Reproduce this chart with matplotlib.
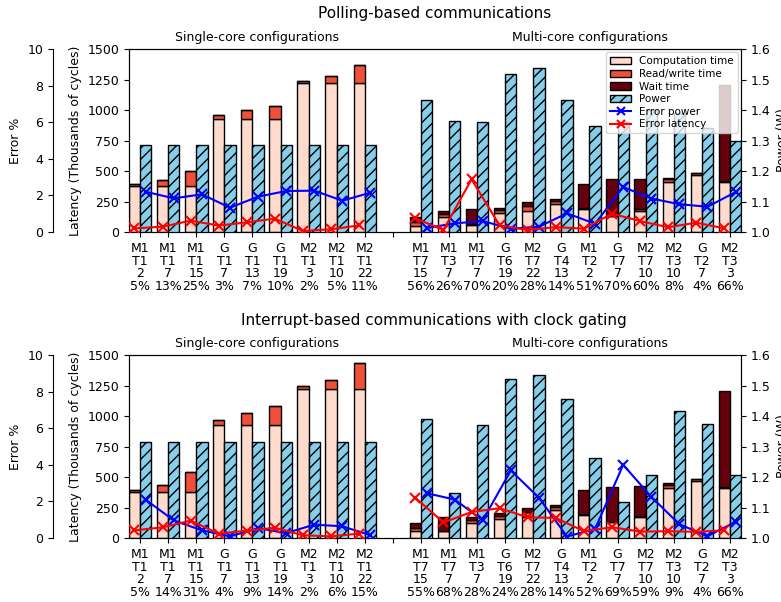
import numpy as np
import matplotlib
matplotlib.use('Agg')
import matplotlib.pyplot as plt
from matplotlib.patches import Patch
from matplotlib.lines import Line2D
import matplotlib.transforms as mtransforms

# configuration labels (core, threads, size)
single_cfg = ['M1\nT1\n2', 'M1\nT1\n7', 'M1\nT1\n15', 'G\nT1\n7', 'G\nT1\n13',
              'G\nT1\n19', 'M2\nT1\n3', 'M2\nT1\n10', 'M2\nT1\n22']
multi_cfg_poll = ['M1\nT7\n15', 'M1\nT3\n7', 'M1\nT7\n7', 'G\nT6\n19', 'M2\nT7\n22',
                  'G\nT4\n13', 'M1\nT2\n2', 'G\nT7\n7', 'M2\nT7\n10', 'M2\nT3\n10',
                  'G\nT2\n7', 'M2\nT3\n3']
multi_cfg_irq = ['M1\nT7\n15', 'M1\nT7\n7', 'M1\nT3\n7', 'G\nT6\n19', 'M2\nT7\n22',
                 'G\nT4\n13', 'M1\nT2\n2', 'G\nT7\n7', 'M2\nT7\n10', 'M2\nT3\n10',
                 'G\nT2\n7', 'M2\nT3\n3']

# communication overhead shown under each configuration
single_pct_poll = ['5%', '13%', '25%', '3%', '7%', '10%', '2%', '5%', '11%']
multi_pct_poll = ['56%', '26%', '70%', '20%', '28%', '14%', '51%', '70%', '60%', '8%', '4%', '66%']
single_pct_irq = ['5%', '14%', '31%', '4%', '9%', '14%', '2%', '6%', '15%']
multi_pct_irq = ['55%', '68%', '28%', '24%', '28%', '14%', '52%', '69%', '59%', '9%', '4%', '66%']

# polling-based, single core (latency in thousands of cycles)
poll_s_comp = [375, 375, 375, 930, 930, 930, 1218, 1218, 1218]
poll_s_rw = [20, 55, 125, 30, 72, 105, 22, 61, 148]
poll_s_wait = [0, 0, 0, 0, 0, 0, 0, 0, 0]
poll_s_power = [1.285, 1.285, 1.285, 1.285, 1.285, 1.285, 1.285, 1.285, 1.285]
poll_s_err_pow = [2.20, 1.84, 2.06, 1.33, 1.93, 2.24, 2.26, 1.71, 2.15]
poll_s_err_lat = [0.20, 0.29, 0.62, 0.35, 0.53, 0.73, 0.05, 0.15, 0.36]

# polling-based, multi core
poll_m_comp = [53, 125, 55, 155, 175, 232, 190, 130, 175, 407, 466, 410]
poll_m_rw = [32, 20, 12, 22, 35, 20, 5, 5, 10, 26, 14, 8]
poll_m_wait = [35, 25, 118, 17, 33, 18, 195, 302, 252, 10, 5, 787]
poll_m_power = [1.434, 1.364, 1.361, 1.519, 1.537, 1.433, 1.348, 1.36, 1.40, 1.39, 1.34, 1.30]
poll_m_err_pow = [0.22, 0.47, 0.60, 0.18, 0.29, 1.02, 0.45, 2.46, 1.83, 1.52, 1.38, 2.18]
poll_m_err_lat = [0.75, 0.11, 2.88, 0.36, 0.11, 0.27, 0.18, 1.00, 0.60, 0.26, 0.51, 0.20]

# interrupt-based with clock gating, single core
irq_s_comp = [375, 375, 375, 930, 930, 930, 1218, 1218, 1218]
irq_s_rw = [20, 62, 170, 40, 92, 150, 24, 78, 215]
irq_s_wait = [0, 0, 0, 0, 0, 0, 0, 0, 0]
irq_s_power = [1.316, 1.316, 1.316, 1.316, 1.316, 1.316, 1.316, 1.316, 1.316]
irq_s_err_pow = [2.09, 0.96, 0.42, 0.09, 0.53, 0.27, 0.73, 0.64, 0.15]
irq_s_err_lat = [0.42, 0.58, 0.95, 0.24, 0.40, 0.56, 0.15, 0.09, 0.24]

# interrupt-based with clock gating, multi core
irq_m_comp = [54, 54, 126, 153, 175, 232, 190, 130, 175, 407, 466, 410]
irq_m_rw = [31, 6, 25, 28, 38, 22, 5, 5, 8, 28, 14, 8]
irq_m_wait = [35, 110, 24, 20, 30, 16, 200, 286, 243, 13, 6, 787]
irq_m_power = [1.389, 1.147, 1.369, 1.520, 1.535, 1.456, 1.263, 1.118, 1.205, 1.417, 1.373, 1.205]
irq_m_err_pow = [2.45, 2.10, 0.97, 3.69, 2.20, 0.08, 0.50, 4.00, 2.25, 0.75, 0.10, 0.88]
irq_m_err_lat = [2.20, 0.85, 1.42, 1.63, 1.13, 1.10, 0.37, 0.59, 0.35, 0.37, 0.34, 0.42]

c_comp = '#fedbcc'
c_rw = '#f0503a'
c_wait = '#67000d'
c_power = '#87ceeb'
w = 0.4

x_single = np.arange(9)
x_multi = np.arange(10, 22)


def panel(bottom, s, m, s_cfg, s_pct, m_cfg, m_pct, legend=False):
    ax = fig.add_axes([0.165, bottom, 0.784, 0.304])
    axp = ax.twinx()
    axe = ax.twinx()
    axp.set_zorder(2)
    axe.set_zorder(3)

    for x, d in ((x_single, s), (x_multi, m)):
        comp, rw, wait, power, err_pow, err_lat = [np.array(v, float) for v in d]
        ax.bar(x - w / 2, comp, w, color=c_comp, edgecolor='black', lw=1)
        ax.bar(x - w / 2, rw, w, bottom=comp, color=c_rw, edgecolor='black', lw=1)
        ax.bar(x - w / 2, wait, w, bottom=comp + rw, color=c_wait, edgecolor='black', lw=1)
        axp.bar(x + w / 2, power, w, color=c_power, edgecolor='black', lw=1, hatch='///')
        axe.plot(x + w / 2, err_pow, 'b-x', lw=1.5, ms=7, mew=1.5)
        axe.plot(x - w / 2, err_lat, 'r-x', lw=1.5, ms=7, mew=1.5)

    ax.set_xlim(-0.4, 21.4)
    ax.set_ylim(0, 1500)
    ax.set_yticks([0, 250, 500, 750, 1000, 1250, 1500])
    ax.set_ylabel('Latency (Thousands of cycles)')
    ticks = list(x_single) + [9] + list(x_multi)
    labels = [c + '\n' + p for c, p in zip(s_cfg, s_pct)] + [''] + \
             [c + '\n' + p for c, p in zip(m_cfg, m_pct)]
    ax.set_xticks(ticks)
    ax.set_xticklabels(labels, linespacing=0.98)

    axp.set_ylim(1.0, 1.6)
    axp.set_yticks([1.0, 1.1, 1.2, 1.3, 1.4, 1.5, 1.6])
    axp.set_ylabel('Power (W)')

    axe.set_ylim(0, 10)
    axe.set_yticks([0, 2, 4, 6, 8, 10])
    axe.spines['left'].set_position(('axes', -0.124))
    axe.spines['left'].set_visible(True)
    axe.spines['right'].set_visible(False)
    axe.spines['top'].set_visible(False)
    axe.spines['bottom'].set_visible(False)
    axe.yaxis.set_ticks_position('left')
    axe.yaxis.set_label_position('left')
    axe.set_ylabel('Error %')

    trans = mtransforms.blended_transform_factory(ax.transData, ax.transAxes)
    ax.text(4.17, 1.03, 'Single-core configurations', transform=trans,
            ha='center', va='bottom', fontsize=9)
    ax.text(16.0, 1.03, 'Multi-core configurations', transform=trans,
            ha='center', va='bottom', fontsize=9)

    if legend:
        handles = [Patch(facecolor=c_comp, edgecolor='black'),
                   Patch(facecolor=c_rw, edgecolor='black'),
                   Patch(facecolor=c_wait, edgecolor='black'),
                   Patch(facecolor=c_power, edgecolor='black', hatch='///'),
                   Line2D([], [], color='b', marker='x', lw=1.5, mew=1.5),
                   Line2D([], [], color='r', marker='x', lw=1.5, mew=1.5)]
        names = ['Computation time', 'Read/write time', 'Wait time', 'Power',
                 'Error power', 'Error latency']
        axe.legend(handles, names, loc='upper right', fontsize=7.5, framealpha=0.8,
                   borderaxespad=0.3, handlelength=2.0, labelspacing=0.25)
    return ax


plt.rcParams['font.size'] = 9
fig = plt.figure(figsize=(7.81, 6.02), dpi=100)

panel(0.6146,
      (poll_s_comp, poll_s_rw, poll_s_wait, poll_s_power, poll_s_err_pow, poll_s_err_lat),
      (poll_m_comp, poll_m_rw, poll_m_wait, poll_m_power, poll_m_err_pow, poll_m_err_lat),
      single_cfg, single_pct_poll, multi_cfg_poll, multi_pct_poll, legend=True)
panel(0.1063,
      (irq_s_comp, irq_s_rw, irq_s_wait, irq_s_power, irq_s_err_pow, irq_s_err_lat),
      (irq_m_comp, irq_m_rw, irq_m_wait, irq_m_power, irq_m_err_pow, irq_m_err_lat),
      single_cfg, single_pct_irq, multi_cfg_irq, multi_pct_irq)

fig.text(0.556, 0.977, 'Polling-based communications', ha='center', va='center', fontsize=11)
fig.text(0.556, 0.468, 'Interrupt-based communications with clock gating',
         ha='center', va='center', fontsize=11)

fig.savefig('out.png', dpi=100)
